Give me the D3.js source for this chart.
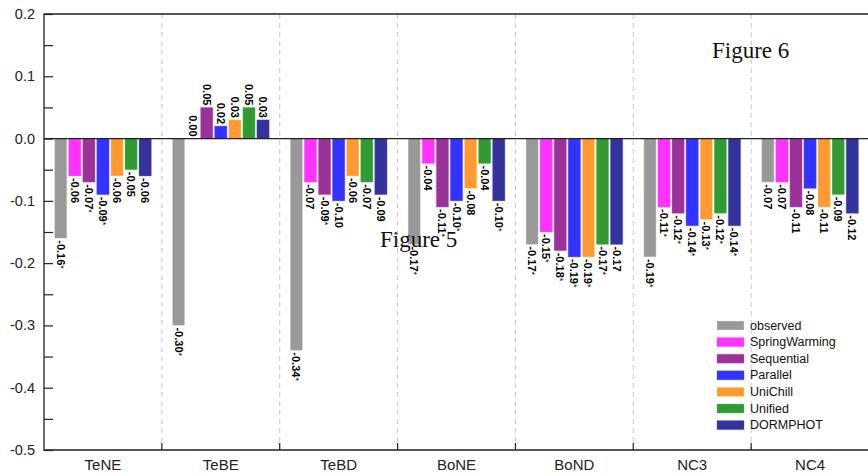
<!DOCTYPE html>
<html><head><meta charset="utf-8">
<script src="https://cdn.jsdelivr.net/npm/d3@7"></script>
<style>body{margin:0;background:#fff;}svg{display:block;}</style>
</head><body>
<svg id="c" width="868" height="473"></svg>
<script>
const categories = ["TeNE","TeBE","TeBD","BoNE","BoND","NC3","NC4"];
const seriesNames = ["observed","SpringWarming","Sequential","Parallel","UniChill","Unified","DORMPHOT"];
const seriesColors = ["#999999","#ff33ff","#993399","#3333ff","#ff9933","#339933","#333399"];
const observed      = [-0.16,-0.30,-0.34,-0.17,-0.17,-0.19,-0.07];
const springWarming = [-0.06, 0.00,-0.07,-0.04,-0.15,-0.11,-0.07];
const sequential    = [-0.07, 0.05,-0.09,-0.11,-0.18,-0.12,-0.11];
const parallel      = [-0.09, 0.02,-0.10,-0.10,-0.19,-0.14,-0.08];
const uniChill      = [-0.06, 0.03,-0.06,-0.08,-0.19,-0.13,-0.11];
const unified       = [-0.05, 0.05,-0.07,-0.04,-0.17,-0.12,-0.09];
const dormphot      = [-0.06, 0.03,-0.09,-0.10,-0.17,-0.14,-0.12];
// significance flags (asterisk), one row per series, one entry per category
const sig = [
  [1,1,1,1,1,1,0], // observed
  [0,0,0,0,1,1,0], // SpringWarming
  [1,0,1,1,1,1,0], // Sequential
  [1,0,0,1,1,1,0], // Parallel
  [0,0,0,0,1,1,0], // UniChill
  [0,0,0,0,1,1,0], // Unified
  [0,0,0,1,0,1,0]  // DORMPHOT
];
const series = [observed,springWarming,sequential,parallel,uniChill,unified,dormphot];
const yTicks = [0.2,0.1,0.0,-0.1,-0.2,-0.3,-0.4,-0.5];

const svg = d3.select("#c");
const L = 44, R = 869, T = 14, B = 450;
const x = d3.scaleBand().domain(categories).range([L, R]).paddingInner(0).paddingOuter(0);
const xs = d3.scaleBand().domain(seriesNames).range([0, x.bandwidth()]).paddingOuter(0.75).paddingInner(0.13);
const y = d3.scaleLinear().domain([-0.5, 0.2]).range([B, T]);

// separators
categories.slice(1).forEach(c => {
  svg.append("line").attr("x1", x(c)).attr("x2", x(c)).attr("y1", T).attr("y2", B)
    .attr("stroke", "#c8c8c8").attr("stroke-width", 1).attr("stroke-dasharray", "5,4");
  svg.append("line").attr("x1", x(c)).attr("x2", x(c)).attr("y1", B).attr("y2", B - 7)
    .attr("stroke", "#222").attr("stroke-width", 1.2);
});

// bars
series.forEach((vals, si) => {
  const g = svg.append("g");
  vals.forEach((v, ci) => {
    const bx = x(categories[ci]) + xs(seriesNames[si]);
    const y0 = y(0), y1 = y(v);
    g.append("rect").attr("x", bx).attr("width", xs.bandwidth())
      .attr("y", Math.min(y0, y1)).attr("height", Math.abs(y1 - y0))
      .attr("fill", seriesColors[si])
      .attr("stroke", d3.color(seriesColors[si]).brighter(1.2)).attr("stroke-opacity", 0.35).attr("stroke-width", 1);
    const cx = bx + xs.bandwidth() / 2;
    const lbl = d3.format(".2f")(v).replace("−", "-");
    let ly, anchor;
    if (v < 0) { ly = y1 + 2; anchor = "start"; } else { ly = y1 - 2; anchor = "end"; }
    const t = g.append("text").attr("transform", `translate(${cx},${ly}) rotate(90)`)
      .attr("text-anchor", anchor).attr("dominant-baseline", "central")
      .attr("font-family", "Liberation Sans, Arial, sans-serif").attr("font-size", 11)
      .attr("font-weight", "bold").attr("fill", "#000");
    t.append("tspan").text(lbl);
    if (sig[si][ci]) t.append("tspan").attr("font-size", 9).attr("font-weight", "normal").text("*");
  });
});

// zero line
svg.append("line").attr("x1", L).attr("x2", R).attr("y1", y(0)).attr("y2", y(0))
  .attr("stroke", "#222").attr("stroke-width", 1.3);

// frame
svg.append("path").attr("d", `M${R},${T}H${L}V${B}H${R}`).attr("fill", "none")
  .attr("stroke", "#222").attr("stroke-width", 1.3);

// y axis ticks (inward)
const yAxis = d3.axisRight(y).tickValues(d3.range(-0.5, 0.2001, 0.05)).tickSize(9).tickFormat("");
const ya = svg.append("g").attr("transform", `translate(${L},0)`).call(yAxis);
ya.select(".domain").remove();
ya.selectAll(".tick line").attr("stroke", "#222").attr("stroke-width", 1.2);
svg.append("g").selectAll("text").data(yTicks).join("text")
  .attr("x", 35).attr("y", d => y(d)).attr("text-anchor", "end").attr("dominant-baseline", "central")
  .attr("font-family", "Liberation Sans, Arial, sans-serif").attr("font-size", 14.5).attr("fill", "#222")
  .text(d => d3.format(".1f")(d).replace("−", "-"));

// x labels
svg.append("g").selectAll("text").data(categories).join("text")
  .attr("x", d => x(d) + x.bandwidth() / 2).attr("y", 470).attr("text-anchor", "middle")
  .attr("font-family", "Liberation Sans, Arial, sans-serif").attr("font-size", 15).attr("fill", "#222")
  .text(d => d);

// legend
const lg = svg.append("g").attr("transform", "translate(717,325.5)");
seriesNames.forEach((n, i) => {
  lg.append("rect").attr("x", 0).attr("y", i * 16.6 - 4.5).attr("width", 27).attr("height", 9)
    .attr("fill", seriesColors[i]).attr("stroke", d3.color(seriesColors[i]).brighter(1.2)).attr("stroke-opacity", 0.35);
  lg.append("text").attr("x", 33).attr("y", i * 16.6).attr("dominant-baseline", "central")
    .attr("font-family", "Liberation Sans, Arial, sans-serif").attr("font-size", 12.5).attr("fill", "#111")
    .text(n);
});

// overlaid figure captions
svg.append("text").attr("x", 712).attr("y", 58).attr("font-family", "Liberation Serif, Times New Roman, serif")
  .attr("font-size", 23).attr("fill", "#111").text("Figure 6");
svg.append("text").attr("x", 380).attr("y", 247).attr("font-family", "Liberation Serif, Times New Roman, serif")
  .attr("font-size", 23).attr("fill", "#111").text("Figure 5");
</script>
</body></html>
